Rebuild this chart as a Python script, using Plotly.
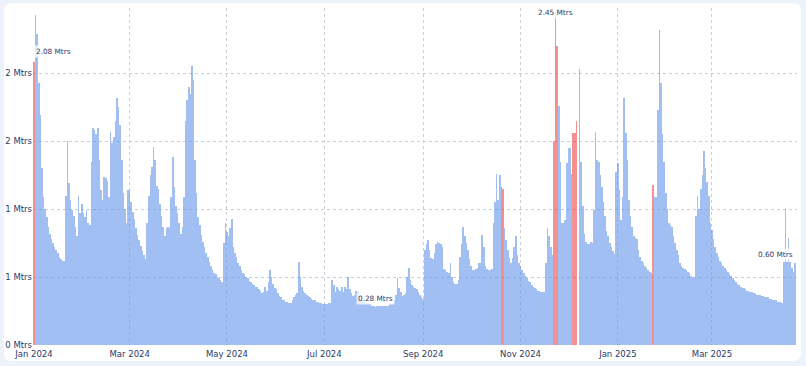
import pandas as pd
import plotly.graph_objects as go

# ---------------- data (daily values, in Mtrs) ----------------
start_date = "2024-01-01"

jan_2024 = [2.08, 2.43, 2.29, 1.93, 1.69, 1.3, 1.09, 1.0, 0.94, 0.87, 0.82, 0.78, 0.75, 0.72, 0.7, 0.68,
            0.65, 0.63, 0.62, 0.62, 1.1, 1.5, 1.19, 1.07, 0.99, 0.95, 0.87, 0.8, 1.1, 0.97, 1.04]
feb_2024 = [0.97, 0.94, 0.99, 0.9, 0.88, 1.35, 1.6, 1.58, 1.55, 1.6, 1.36, 1.14, 1.07, 1.24, 1.23, 1.21,
            1.09, 1.57, 1.49, 1.53, 1.65, 1.82, 1.75, 1.62, 1.36, 1.12, 1.0, 0.9, 1.14]
mar_2024 = [1.14, 1.05, 0.98, 0.93, 0.86, 0.81, 0.77, 0.73, 0.69, 0.66, 0.63, 0.9, 1.1, 1.25, 1.31, 1.46,
            1.36, 1.17, 1.15, 1.04, 0.95, 0.87, 0.8, 0.86, 0.87, 0.86, 1.09, 1.38, 1.16, 1.02, 0.97]
apr_2024 = [0.9, 0.82, 0.87, 1.09, 1.65, 1.8, 1.9, 1.85, 2.05, 1.95, 1.36, 1.12, 0.94, 0.88, 0.81, 0.76,
            0.72, 0.68, 0.65, 0.61, 0.58, 0.55, 0.53, 0.52, 0.5, 0.49, 0.48, 0.46, 0.75, 0.9]
may_2024 = [0.83, 0.8, 0.86, 0.93, 0.72, 0.68, 0.65, 0.6, 0.58, 0.55, 0.53, 0.52, 0.5, 0.49, 0.47, 0.46,
            0.45, 0.44, 0.43, 0.43, 0.41, 0.4, 0.38, 0.39, 0.43, 0.4, 0.46, 0.55, 0.5, 0.45, 0.42]
jun_2024 = [0.41, 0.38, 0.36, 0.35, 0.33, 0.33, 0.32, 0.32, 0.31, 0.31, 0.33, 0.35, 0.37, 0.38, 0.61, 0.5,
            0.43, 0.4, 0.38, 0.37, 0.36, 0.35, 0.34, 0.33, 0.33, 0.32, 0.32, 0.31, 0.31, 0.3]
jul_2024 = [0.3, 0.3, 0.3, 0.31, 0.31, 0.48, 0.44, 0.39, 0.43, 0.41, 0.4, 0.43, 0.39, 0.43, 0.41, 0.5,
            0.41, 0.38, 0.36, 0.37, 0.4, 0.39, 0.36, 0.34, 0.33, 0.32, 0.31, 0.31, 0.3, 0.3, 0.29]
aug_2024 = [0.29, 0.28, 0.29, 0.29, 0.29, 0.29, 0.29, 0.29, 0.29, 0.29, 0.3, 0.3, 0.31, 0.33, 0.37, 0.49,
            0.42, 0.39, 0.36, 0.37, 0.38, 0.5, 0.57, 0.48, 0.44, 0.43, 0.42, 0.41, 0.39, 0.37, 0.35]
sep_2024 = [0.34, 0.7, 0.74, 0.77, 0.7, 0.64, 0.63, 0.68, 0.74, 0.76, 0.75, 0.74, 0.72, 0.56, 0.55, 0.54,
            0.53, 0.6, 0.5, 0.46, 0.45, 0.45, 0.48, 0.65, 0.74, 0.87, 0.8, 0.75, 0.7, 0.63]
oct_2024 = [0.58, 0.55, 0.55, 0.56, 0.57, 0.6, 0.6, 0.81, 0.72, 0.58, 0.56, 0.55, 0.55, 0.56, 0.9, 1.05,
            1.26, 1.07, 1.25, 1.16, 1.15, 0.86, 0.77, 0.7, 0.64, 0.6, 0.64, 0.72, 0.8, 0.66, 0.6]
nov_2024 = [0.58, 0.55, 0.53, 0.51, 0.49, 0.47, 0.46, 0.44, 0.43, 0.42, 0.41, 0.4, 0.4, 0.39, 0.39, 0.39,
            0.6, 0.86, 0.8, 0.72, 0.66, 1.5, 2.45, 2.2, 1.76, 1.35, 0.9, 0.9, 0.92, 1.34]
dec_2024 = [1.45, 1.45, 1.26, 1.56, 1.56, 1.65, None, 2.03, 1.35, 1.02, 0.82, 0.76, 0.74, 0.74, 0.76, 0.75,
            0.99, 1.57, 1.36, 1.35, 1.25, 1.16, 1.05, 0.95, 0.84, 0.8, 0.75, 0.72, 0.69, 0.67, 1.27]
jan_2025 = [1.34, 1.14, 0.92, 1.09, 1.82, 1.56, 1.36, 1.07, 0.95, 0.87, 0.8, 0.79, 0.78, 0.7, 0.65, 0.62,
            0.6, 0.58, 0.57, 0.55, 0.54, 0.53, 1.18, 1.09, 1.09, 1.73, 2.32, 1.93, 1.55, 1.35, 1.12]
feb_2025 = [1.0, 0.9, 0.88, 0.87, 0.8, 0.75, 0.7, 0.66, 0.6, 0.58, 0.57, 0.56, 0.55, 0.54, 0.53, 0.51,
            0.5, 0.49, 0.95, 1.1, 1.0, 1.15, 1.25, 1.43, 1.3, 1.2, 1.1, 0.9]
mar_2025 = [0.85, 0.78, 0.72, 0.68, 0.65, 0.62, 0.6, 0.58, 0.57, 0.55, 0.54, 0.52, 0.51, 0.49, 0.48, 0.46,
            0.45, 0.44, 0.43, 0.42, 0.42, 0.41, 0.4, 0.4, 0.39, 0.39, 0.38, 0.38, 0.37, 0.37, 0.37]
apr_2025 = [0.36, 0.36, 0.35, 0.35, 0.35, 0.34, 0.34, 0.33, 0.33, 0.33, 0.32, 0.32, 0.32, 0.31, 0.61, 1.0,
            0.61, 0.79, 0.61, 0.57, 0.54, 0.6]

flagged_dates = ["2024-01-01", "2024-10-20", "2024-10-21", "2024-11-22", "2024-11-23", "2024-11-24",
                 "2024-12-04", "2024-12-05", "2024-12-06", "2025-01-23"]

y_tick_values = [0, 0.5, 1.0, 1.5, 2.0]
y_tick_labels = ["0 Mtrs", "1 Mtrs", "1 Mtrs", "2 Mtrs", "2 Mtrs"]
x_tick_dates = ["2024-01-01", "2024-03-01", "2024-05-01", "2024-07-01", "2024-09-01",
                "2024-11-01", "2025-01-01", "2025-03-01"]
x_tick_labels = ["Jan 2024", "Mar 2024", "May 2024", "Jul 2024", "Sep 2024",
                 "Nov 2024", "Jan 2025", "Mar 2025"]

months = [jan_2024, feb_2024, mar_2024, apr_2024, may_2024, jun_2024, jul_2024, aug_2024,
          sep_2024, oct_2024, nov_2024, dec_2024, jan_2025, feb_2025, mar_2025, apr_2025]
values = [v for m in months for v in m]
dates = pd.date_range(start_date, periods=len(values), freq="D")

# ---------------- styling ----------------
W, H = 806, 366
ML, MR, MT, MB = 33, 9, 8, 21
BG = "#eef3fb"
BLUE = "rgba(100,149,237,0.6)"
RED = "rgba(235,70,70,0.6)"
TXT = "#2b3a67"
FONT = "DejaVu Sans"
flag_set = set(pd.to_datetime(flagged_dates))
colors = [RED if d in flag_set else BLUE for d in dates]

fig = go.Figure()
fig.add_trace(go.Bar(x=dates, y=values, marker=dict(color=colors, line=dict(width=0)),
                     hovertemplate="%{x|%d %b %Y}: %{y:.2f} Mtrs<extra></extra>"))

# annotations: first, max, min, last
valid = [(d, v) for d, v in zip(dates, values) if v is not None]
first_d, first_v = valid[0]
last_d, last_v = valid[-1]
max_d, max_v = max(valid, key=lambda t: t[1])
min_d, min_v = min(valid, key=lambda t: t[1])

ann_style = dict(showarrow=False, font=dict(family=FONT, size=7.3, color=TXT),
                 bgcolor="rgba(255,255,255,0.75)", borderpad=1)
annotations = [
    dict(x=first_d, y=first_v, text=f"{first_v:.2f} Mtrs", xanchor="left", yanchor="bottom",
         yshift=4, **ann_style),
    dict(x=max_d, y=max_v, text=f"{max_v:.2f} Mtrs", xanchor="center", yanchor="middle",
         yshift=0, **ann_style),
    dict(x=min_d, y=min_v, text=f"{min_v:.2f} Mtrs", xanchor="center", yanchor="bottom",
         yshift=2, **ann_style),
    dict(x=last_d, y=last_v, text=f"{last_v:.2f} Mtrs", xanchor="right", yanchor="bottom",
         yshift=2, **ann_style),
]

# white rounded card behind the chart (pixel coords -> paper coords)
pw, ph = W - ML - MR, H - MT - MB
def P(px, py):
    return f"{(px - ML) / pw:.5f},{(H - MB - py) / ph:.5f}"
x0, x1, y0, y1, r = 4, 801, 3, 361, 8
card_path = (f"M {P(x0 + r, y0)} L {P(x1 - r, y0)} Q {P(x1, y0)} {P(x1, y0 + r)} "
             f"L {P(x1, y1 - r)} Q {P(x1, y1)} {P(x1 - r, y1)} L {P(x0 + r, y1)} "
             f"Q {P(x0, y1)} {P(x0, y1 - r)} L {P(x0, y0 + r)} Q {P(x0, y0)} {P(x0 + r, y0)} Z")

grid = dict(showgrid=True, gridcolor="#c9ceda", gridwidth=1, griddash="3px,3px",
            zeroline=False, showline=False, ticks="", automargin=False,
            tickfont=dict(family=FONT, size=8.5, color=TXT))

fig.update_layout(
    width=W, height=H,
    margin=dict(l=ML, r=MR, t=MT, b=MB),
    paper_bgcolor=BG, plot_bgcolor="white",
    bargap=0, showlegend=False,
    annotations=annotations,
    shapes=[dict(type="path", path=card_path, xref="paper", yref="paper",
                 fillcolor="white", line=dict(width=0), layer="below")],
    xaxis=dict(type="date", range=["2023-12-31 09:36", "2025-04-23 07:00"],
               tickvals=x_tick_dates, ticktext=x_tick_labels, ticklabelstandoff=2, **grid),
    yaxis=dict(range=[0, 2.48], tickvals=y_tick_values, ticktext=y_tick_labels, **grid),
)

fig.write_html(
    "out.html",
    config=dict(displayModeBar=False),
    post_script=f"document.body.style.margin='0';document.body.style.overflow='hidden';"
                f"document.body.style.background='{BG}';",
)
